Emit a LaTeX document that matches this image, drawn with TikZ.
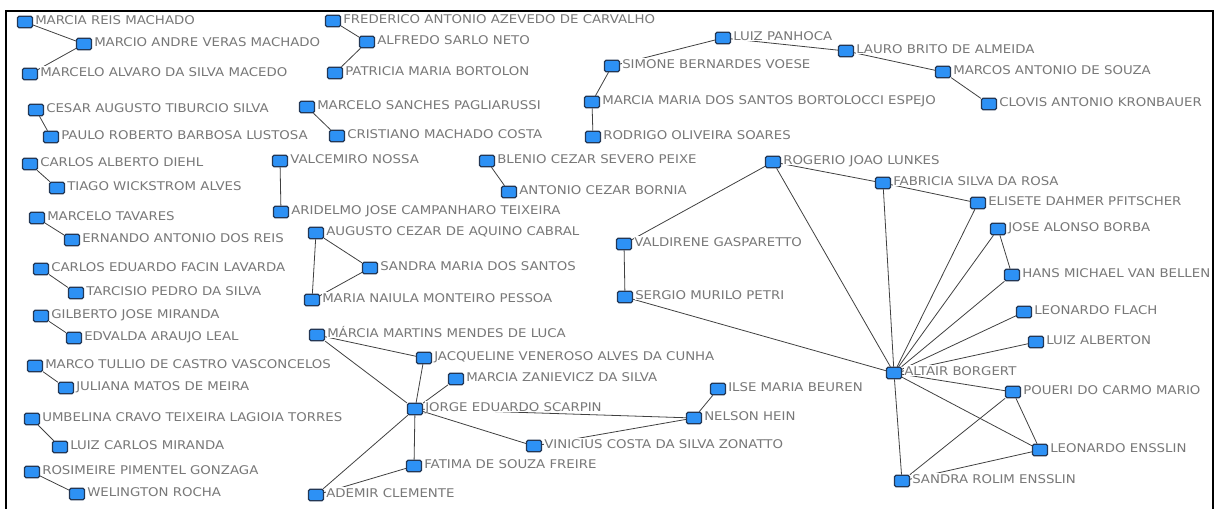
\documentclass[tikz,border=0pt]{standalone}
\usepackage{fontspec}
\usetikzlibrary{backgrounds}
\newfontfamily\lblfont[FakeStretch=1.11]{DejaVu Sans}
\definecolor{nodeblue}{RGB}{45,145,245}
\definecolor{nodeborder}{RGB}{35,55,85}
\definecolor{lblgray}{RGB}{120,120,120}
\tikzstyle{person} = [rectangle, rounded corners=1.5pt, minimum width=15pt, minimum height=11.5pt, inner sep=0pt, draw=nodeborder, line width=1.1pt, fill=nodeblue]
\tikzstyle{namelabel} = [font=\lblfont\fontsize{12}{14}\selectfont, text=lblgray, fill=white, inner xsep=0.5pt, inner ysep=0pt, text height=11pt, text depth=0.5pt, anchor=base west, xshift=1.5pt, yshift=-2.5pt]
\tikzstyle{link} = [draw=black!75, line width=0.8pt]
\tikzstyle{frame} = [draw=black, line width=2pt]

\begin{document}
\begin{tikzpicture}[x=1pt, y=-1pt]
\useasboundingbox (0,0) rectangle (1219,509);

% left column
\node (mreis) [person, label={[namelabel]east:MARCIA REIS MACHADO}] at (25,22) {};
\node (mandre) [person, label={[namelabel]east:MARCIO ANDRE VERAS MACHADO}] at (84,44) {};
\node (malvaro) [person, label={[namelabel]east:MARCELO ALVARO DA SILVA MACEDO}] at (30,74) {};
\node (cesar) [person, label={[namelabel]east:CESAR AUGUSTO TIBURCIO SILVA}] at (36,110) {};
\node (paulo) [person, label={[namelabel]east:PAULO ROBERTO BARBOSA LUSTOSA}] at (51,137) {};
\node (calberto) [person, label={[namelabel]east:CARLOS ALBERTO DIEHL}] at (30,164) {};
\node (tiago) [person, label={[namelabel]east:TIAGO WICKSTROM ALVES}] at (57,188) {};
\node (mtavares) [person, label={[namelabel]east:MARCELO TAVARES}] at (37,218) {};
\node (ernando) [person, label={[namelabel]east:ERNANDO ANTONIO DOS REIS}] at (72,240) {};
\node (ceduardo) [person, label={[namelabel]east:CARLOS EDUARDO FACIN LAVARDA}] at (41,269) {};
\node (tarcisio) [person, label={[namelabel]east:TARCISIO PEDRO DA SILVA}] at (76,293) {};
\node (gilberto) [person, label={[namelabel]east:GILBERTO JOSE MIRANDA}] at (41,316) {};
\node (edvalda) [person, label={[namelabel]east:EDVALDA ARAUJO LEAL}] at (74,338) {};
\node (mtullio) [person, label={[namelabel]east:MARCO TULLIO DE CASTRO VASCONCELOS}] at (35,366) {};
\node (juliana) [person, label={[namelabel]east:JULIANA MATOS DE MEIRA}] at (66,388) {};
\node (umbelina) [person, label={[namelabel]east:UMBELINA CRAVO TEIXEIRA LAGIOIA TORRES}] at (32,419) {};
\node (lcarlos) [person, label={[namelabel]east:LUIZ CARLOS MIRANDA}] at (60,447) {};
\node (rosimeire) [person, label={[namelabel]east:ROSIMEIRE PIMENTEL GONZAGA}] at (32,472) {};
\node (welington) [person, label={[namelabel]east:WELINGTON ROCHA}] at (77,494) {};

% middle column
\node (frederico) [person, label={[namelabel]east:FREDERICO ANTONIO AZEVEDO DE CARVALHO}] at (333,21) {};
\node (alfredo) [person, label={[namelabel]east:ALFREDO SARLO NETO}] at (367,42) {};
\node (patricia) [person, label={[namelabel]east:PATRICIA MARIA BORTOLON}] at (335,73) {};
\node (msanches) [person, label={[namelabel]east:MARCELO SANCHES PAGLIARUSSI}] at (307,107) {};
\node (cristiano) [person, label={[namelabel]east:CRISTIANO MACHADO COSTA}] at (337,136) {};
\node (valcemiro) [person, label={[namelabel]east:VALCEMIRO NOSSA}] at (280,161) {};
\node (aridelmo) [person, label={[namelabel]east:ARIDELMO JOSE CAMPANHARO TEIXEIRA}] at (281,212) {};
\node (augusto) [person, label={[namelabel]east:AUGUSTO CEZAR DE AQUINO CABRAL}] at (316,233) {};
\node (sandram) [person, label={[namelabel]east:SANDRA MARIA DOS SANTOS}] at (370,268) {};
\node (naiula) [person, label={[namelabel]east:MARIA NAIULA MONTEIRO PESSOA}] at (312,300) {};
\node (blenio) [person, label={[namelabel]east:BLENIO CEZAR SEVERO PEIXE}] at (487,161) {};
\node (bornia) [person, label={[namelabel]east:ANTONIO CEZAR BORNIA}] at (509,192) {};

% scarpin group
\node (mmartins) [person, label={[namelabel]east:MÁRCIA MARTINS MENDES DE LUCA}] at (317,335) {};
\node (jacqueline) [person, label={[namelabel]east:JACQUELINE VENEROSO ALVES DA CUNHA}] at (424,358) {};
\node (zanievicz) [person, label={[namelabel]east:MARCIA ZANIEVICZ DA SILVA}] at (456,379) {};
\node (jorge) [person, label={[namelabel]east:JORGE EDUARDO SCARPIN}] at (415,409) {};
\node (ilse) [person, label={[namelabel]east:ILSE MARIA BEUREN}] at (718,389) {};
\node (nelson) [person, label={[namelabel]east:NELSON HEIN}] at (694,418) {};
\node (vinicius) [person, label={[namelabel]east:VINICIUS COSTA DA SILVA ZONATTO}] at (534,446) {};
\node (fatima) [person, label={[namelabel]east:FATIMA DE SOUZA FREIRE}] at (414,466) {};
\node (ademir) [person, label={[namelabel]east:ADEMIR CLEMENTE}] at (316,495) {};

% panhoca chain
\node (panhoca) [person, label={[namelabel]east:LUIZ PANHOCA}] at (723,38) {};
\node (lauro) [person, label={[namelabel]east:LAURO BRITO DE ALMEIDA}] at (846,51) {};
\node (simone) [person, label={[namelabel]east:SIMONE BERNARDES VOESE}] at (612,66) {};
\node (marcos) [person, label={[namelabel]east:MARCOS ANTONIO DE SOUZA}] at (943,72) {};
\node (espejo) [person, label={[namelabel]east:MARCIA MARIA DOS SANTOS BORTOLOCCI ESPEJO}] at (592,102) {};
\node (clovis) [person, label={[namelabel]east:CLOVIS ANTONIO KRONBAUER}] at (989,104) {};
\node (rodrigo) [person, label={[namelabel]east:RODRIGO OLIVEIRA SOARES}] at (593,137) {};

% borgert group
\node (rogerio) [person, label={[namelabel]east:ROGERIO JOAO LUNKES}] at (773,162) {};
\node (fabricia) [person, label={[namelabel]east:FABRICIA SILVA DA ROSA}] at (883,183) {};
\node (elisete) [person, label={[namelabel]east:ELISETE DAHMER PFITSCHER}] at (978,203) {};
\node (josealonso) [person, label={[namelabel]east:JOSE ALONSO BORBA}] at (998,229) {};
\node (valdirene) [person, label={[namelabel]east:VALDIRENE GASPARETTO}] at (624,244) {};
\node (hans) [person, label={[namelabel]east:HANS MICHAEL VAN BELLEN}] at (1012,275) {};
\node (sergio) [person, label={[namelabel]east:SERGIO MURILO PETRI}] at (625,297) {};
\node (flach) [person, label={[namelabel]east:LEONARDO FLACH}] at (1024,312) {};
\node (alberton) [person, label={[namelabel]east:LUIZ ALBERTON}] at (1036,342) {};
\node (altair) [person, label={[namelabel]east:ALTAIR BORGERT}] at (894,373) {};
\node (poueri) [person, label={[namelabel]east:POUERI DO CARMO MARIO}] at (1013,392) {};
\node (ensslin) [person, label={[namelabel]east:LEONARDO ENSSLIN}] at (1040,450) {};
\node (sandrar) [person, label={[namelabel]east:SANDRA ROLIM ENSSLIN}] at (902,481) {};

\coordinate (frameleft) at (6,509);
\coordinate (frameright) at (1213,509);
\draw [frame] (frameleft) |- (1213,11) -- (frameright);

\begin{scope}[on background layer]
\draw [link] (mreis) -- (mandre);
\draw [link] (mandre) -- (malvaro);
\draw [link] (cesar) -- (paulo);
\draw [link] (calberto) -- (tiago);
\draw [link] (mtavares) -- (ernando);
\draw [link] (ceduardo) -- (tarcisio);
\draw [link] (gilberto) -- (edvalda);
\draw [link] (mtullio) -- (juliana);
\draw [link] (umbelina) -- (lcarlos);
\draw [link] (rosimeire) -- (welington);

\draw [link] (frederico) -- (alfredo);
\draw [link] (alfredo) -- (patricia);
\draw [link] (msanches) -- (cristiano);
\draw [link] (valcemiro) -- (aridelmo);
\draw [link] (augusto) -- (sandram);
\draw [link] (augusto) -- (naiula);
\draw [link] (sandram) -- (naiula);
\draw [link] (blenio) -- (bornia);

\draw [link] (mmartins) -- (jacqueline);
\draw [link] (mmartins) -- (jorge);
\draw [link] (jacqueline) -- (jorge);
\draw [link] (zanievicz) -- (jorge);
\draw [link] (jorge) -- (nelson);
\draw [link] (jorge) -- (vinicius);
\draw [link] (jorge) -- (fatima);
\draw [link] (jorge) -- (ademir);
\draw [link] (fatima) -- (ademir);
\draw [link] (nelson) -- (ilse);
\draw [link] (nelson) -- (vinicius);

\draw [link] (simone) -- (panhoca);
\draw [link] (panhoca) -- (lauro);
\draw [link] (lauro) -- (marcos);
\draw [link] (marcos) -- (clovis);
\draw [link] (simone) -- (espejo);
\draw [link] (espejo) -- (rodrigo);

\draw [link] (rogerio) -- (valdirene);
\draw [link] (rogerio) -- (fabricia);
\draw [link] (rogerio) -- (altair);
\draw [link] (fabricia) -- (elisete);
\draw [link] (fabricia) -- (altair);
\draw [link] (elisete) -- (altair);
\draw [link] (josealonso) -- (altair);
\draw [link] (josealonso) -- (hans);
\draw [link] (hans) -- (altair);
\draw [link] (flach) -- (altair);
\draw [link] (alberton) -- (altair);
\draw [link] (valdirene) -- (sergio);
\draw [link] (sergio) -- (altair);
\draw [link] (altair) -- (poueri);
\draw [link] (altair) -- (ensslin);
\draw [link] (altair) -- (sandrar);
\draw [link] (poueri) -- (ensslin);
\draw [link] (poueri) -- (sandrar);
\draw [link] (ensslin) -- (sandrar);
\end{scope}

\end{tikzpicture}
\end{document}
